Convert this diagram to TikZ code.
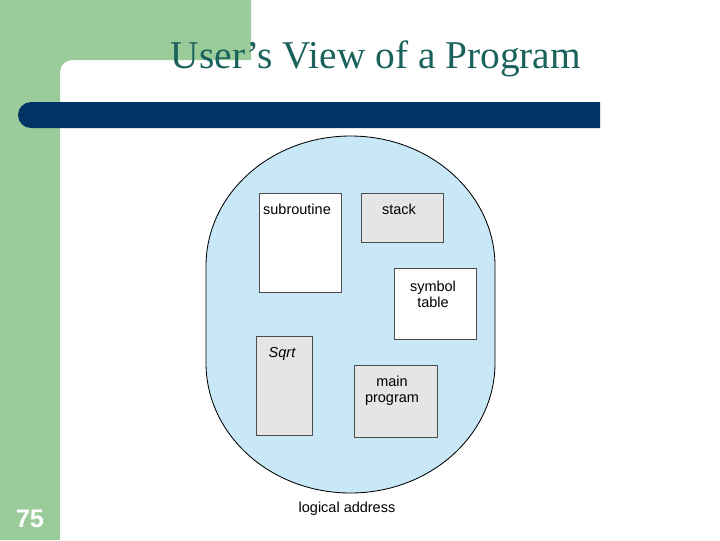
\documentclass[tikz,border=0pt]{standalone}
\usepackage{fontspec}
\setmainfont{Liberation Serif}
\setsansfont{Liberation Sans}

\definecolor{slideGreen}{RGB}{155,203,155}
\definecolor{slideBlue}{RGB}{0,51,102}
\definecolor{titleTeal}{RGB}{26,98,92}
\definecolor{spaceBlue}{RGB}{200,232,248}
\definecolor{segmentGray}{RGB}{229,229,229}

\begin{document}
\begin{tikzpicture}[x=0.025cm, y=-0.025cm]

% --- Stijldefinities ---
\tikzset{
    slideFrame/.style={
        fill=slideGreen
    },
    titleBar/.style={
        fill=slideBlue
    },
    slideTitle/.style={
        font=\fontsize{28}{32}\selectfont,
        text=titleTeal,
        inner sep=0pt
    },
    addressSpace/.style={
        fill=spaceBlue,
        draw=black,
        line width=0.6pt
    },
    segmentBox/.style={
        draw=black!70,
        line width=0.7pt
    },
    segmentLabel/.style={
        font=\sffamily\fontsize{10.3}{11.3}\selectfont,
        align=center,
        inner sep=0pt
    },
    pageNumber/.style={
        font=\sffamily\bfseries\fontsize{18}{20}\selectfont,
        text=white,
        inner sep=0pt
    }
}

\useasboundingbox (0,0) rectangle (720,540);

% =========================================================
% Dia-achtergrond: groene rand en blauwe balk
% =========================================================

\fill[slideFrame] (0,0) -- (251,0) -- (251,60) -- (72,60)
    arc[start angle=270, end angle=180, radius=12] -- (60,540) -- (0,540) -- cycle;

\fill[titleBar] (600,102) -- (31,102)
    arc[start angle=270, end angle=90, radius=13] -- (600,128) -- cycle;

% Titel
\node[slideTitle, anchor=base] (title) at (376,68) {User’s View of a Program};

% Paginanummer
\node[pageNumber, anchor=base] (pageNo) at (30,527) {75};

% =========================================================
% Logische adresruimte
% =========================================================

\draw[addressSpace] (206,266)
    arc[start angle=180, end angle=360, x radius=144.5, y radius=130]
    -- (495,363)
    arc[start angle=0, end angle=180, x radius=144.5, y radius=130]
    -- cycle;

% Segmenten
\draw[segmentBox, fill=white] (259,193) rectangle (341,292);
\draw[segmentBox, fill=segmentGray] (361,193) rectangle (443,242);
\draw[segmentBox, fill=white] (394,268) rectangle (476,339);
\draw[segmentBox, fill=segmentGray] (256,336) rectangle (312,435);
\draw[segmentBox, fill=segmentGray] (354,365) rectangle (437,437);

% Labels
\node[segmentLabel, anchor=base] (subroutineLabel) at (297,214) {subroutine};
\node[segmentLabel, anchor=base] (stackLabel) at (399,214) {stack};
\node[segmentLabel] (symbolLabel) at (433,294) {symbol\\table};
\node[segmentLabel, anchor=base] (sqrtLabel) at (282,357) {\itshape Sqrt};
\node[segmentLabel] (mainLabel) at (392,391) {main\\program};

% Onderschrift
\node[segmentLabel, anchor=base] (spaceCaption) at (347,512) {logical address};

\end{tikzpicture}
\end{document}
